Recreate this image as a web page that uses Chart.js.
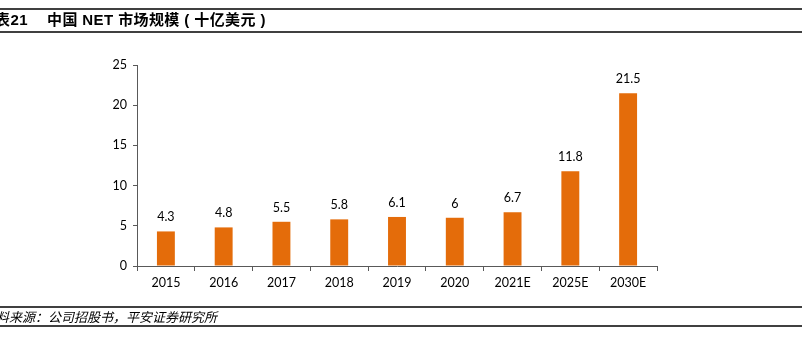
<!DOCTYPE html>
<html>
<head>
<meta charset="utf-8">
<script src="https://cdn.jsdelivr.net/npm/chart.js@4.4.0/dist/chart.umd.min.js"></script>
<style>
  html, body { margin: 0; padding: 0; background: #fff; }
  #wrap { width: 807px; height: 350px; position: relative; }
</style>
</head>
<body>
<div id="wrap"><canvas id="myChart" width="807" height="350"></canvas></div>
<script>
const years = ['2015', '2016', '2017', '2018', '2019', '2020', '2021E', '2025E', '2030E'];
const marketSize = [4.3, 4.8, 5.5, 5.8, 6.1, 6, 6.7, 11.8, 21.5];
const yTicks = [0, 5, 10, 15, 20, 25];

const titleTag = '表21';
const titleText = '中国 NET 市场规模 ( 十亿美元 )';
const sourceText = '资料来源：公司招股书，平安证券研究所';

const tickFont = { family: 'Lato, "Noto Sans", sans-serif', size: 12.5 };

// title, footer and rules around them
const frame = {
  id: 'frame',
  afterDraw(chart) {
    const c = chart.ctx;
    c.save();
    c.strokeStyle = '#000';
    c.lineWidth = 1.5;
    [9, 32, 307, 326].forEach(y => {
      c.beginPath();
      c.moveTo(0, y);
      c.lineTo(802, y);
      c.stroke();
    });
    c.fillStyle = '#000';
    c.textBaseline = 'middle';
    c.font = 'bold 15px "Liberation Sans", "Noto Sans CJK SC", sans-serif';
    c.letterSpacing = '0.4px';
    c.fillText(titleTag, -5, 21);
    c.fillText(titleText, 47, 21);
    c.letterSpacing = '0px';
    c.font = 'italic 13px "Noto Sans CJK SC", sans-serif';
    c.fillText(sourceText, -17, 317);
    c.restore();
  }
};

// value labels above bars
const barLabels = {
  id: 'barLabels',
  afterDatasetsDraw(chart) {
    const c = chart.ctx;
    const meta = chart.getDatasetMeta(0);
    c.save();
    c.fillStyle = '#000';
    c.font = '12.5px ' + tickFont.family;
    c.textAlign = 'center';
    c.textBaseline = 'middle';
    meta.data.forEach((bar, i) => {
      c.fillText(String(marketSize[i]), bar.x, bar.y - 14);
    });
    c.restore();
  }
};

const ctx = document.getElementById('myChart').getContext('2d');
const myChart = new Chart(ctx, {
  type: 'bar',
  data: {
    labels: years,
    datasets: [{
      data: marketSize,
      backgroundColor: '#E46C0A',
      barPercentage: 0.62,
      categoryPercentage: 0.5
    }]
  },
  options: {
    responsive: false,
    animation: false,
    layout: { padding: { left: 100, right: 150, top: 65, bottom: 44 } },
    plugins: {
      legend: { display: false },
      tooltip: { enabled: false }
    },
    scales: {
      x: {
        grid: { drawOnChartArea: false, drawTicks: true, tickLength: 5, color: '#595959', offset: true },
        border: { color: '#595959', width: 1 },
        ticks: { color: '#000', font: tickFont, padding: 4, maxRotation: 0 },
        afterFit(scale) { scale.height = 40; }
      },
      y: {
        min: 0,
        max: 25,
        afterBuildTicks(scale) { scale.ticks = yTicks.map(v => ({ value: v })); },
        grid: { drawOnChartArea: false, drawTicks: true, tickLength: 4, color: '#595959' },
        border: { color: '#595959', width: 1 },
        ticks: { color: '#000', font: tickFont, padding: 6 },
        afterFit(scale) { scale.width = 37; }
      }
    }
  },
  plugins: [frame, barLabels]
});
</script>
</body>
</html>
